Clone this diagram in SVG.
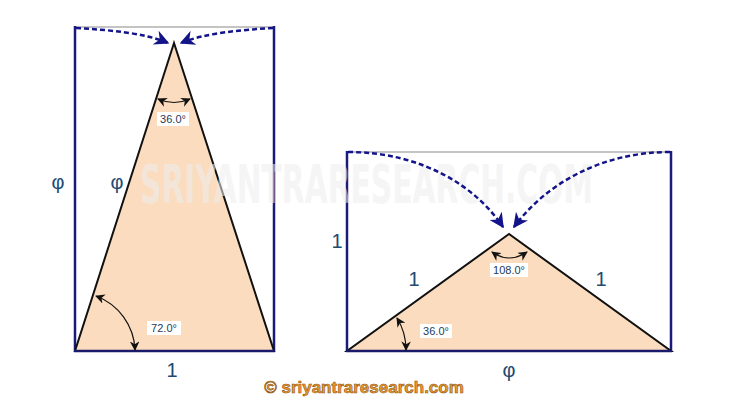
<svg xmlns="http://www.w3.org/2000/svg" width="730" height="404" viewBox="0 0 730 404">
<defs>
<marker id="navyArrow" viewBox="0 0 10 10" refX="9" refY="5" markerWidth="6" markerHeight="6" orient="auto" markerUnits="strokeWidth">
<path d="M0,0 L10,5 L0,10 L3,5 z" fill="#14148a"/>
</marker>
<marker id="blackArrow" viewBox="0 0 10 10" refX="9" refY="5" markerWidth="8" markerHeight="8" orient="auto" markerUnits="strokeWidth">
<path d="M0,0 L10,5 L0,10 L3,5 z" fill="#111"/>
</marker>
<marker id="blackArrowStart" viewBox="0 0 10 10" refX="1" refY="5" markerWidth="8" markerHeight="8" orient="auto" markerUnits="strokeWidth">
<path d="M10,0 L0,5 L10,10 L7,5 z" fill="#111"/>
</marker>
</defs>
<style>
.side{stroke:#1a1a7a;stroke-width:2.5;fill:none}
.top{stroke:#c4c4c4;stroke-width:2;fill:none}
.tri{fill:#fbdcbf;stroke:#111;stroke-width:2;stroke-linejoin:miter}
.base{stroke:#1a1a6a;stroke-width:2.5}
.dash{stroke:#14148a;stroke-width:2.5;stroke-dasharray:5,3;fill:none;marker-end:url(#navyArrow)}
.arc{stroke:#111;stroke-width:1.2;fill:none;marker-start:url(#blackArrowStart);marker-end:url(#blackArrow)}
.lbl{font-family:"Liberation Sans",Arial,sans-serif;font-size:20px;fill:#1d4a70;text-anchor:middle}
.ang{font-family:"Liberation Sans",Arial,sans-serif;font-size:11px;fill:#1d3a5a;text-anchor:middle}
.angbg{fill:#fff}
.wm{font-family:"Liberation Sans Narrow","DejaVu Sans Condensed",sans-serif;font-weight:bold;font-size:54px;fill:#eeeeee;opacity:0.55}
.foot{font-family:"Liberation Sans",Arial,sans-serif;font-weight:bold;font-size:17px;fill:#ee9a2a;stroke:#8a5418;stroke-width:0.6;text-anchor:middle}
</style>
<rect width="730" height="404" fill="#fff"/>

<g id="left-figure">
<line class="top" x1="75" y1="27" x2="274" y2="27"/>
<line class="side" x1="75" y1="26" x2="75" y2="352"/>
<line class="side" x1="274" y1="26" x2="274" y2="352"/>
<polygon class="tri" points="174,43 75,351 274,351"/>
<line class="base" x1="74" y1="351" x2="275" y2="351"/>
</g>

<g id="right-figure">
<line class="top" x1="347" y1="152" x2="671" y2="152"/>
<line class="side" x1="347" y1="151" x2="347" y2="352"/>
<line class="side" x1="671" y1="151" x2="671" y2="352"/>
<polygon class="tri" points="509,234 347,351 671,351"/>
<line class="base" x1="346" y1="351" x2="672" y2="351"/>
</g>

<g id="watermark">
<text class="wm" x="140" y="203" textLength="453" lengthAdjust="spacingAndGlyphs">SRIYANTRARESEARCH.COM</text>
</g>

<g id="connectors">
<path class="dash" d="M76,28 C110,30 145,33 168,43"/>
<path class="dash" d="M273,28 C240,30 205,33 181,43"/>
<path class="dash" d="M348,152 C420,152 475,185 503,227"/>
<path class="dash" d="M670,152 C600,152 545,185 514,227"/>
<path class="arc" d="M158,99 Q174,106 190,99"/>
<path class="arc" d="M96,296 A60,60 0 0 1 135,350"/>
<path class="arc" d="M492,252 Q509,264 527,252"/>
<path class="arc" d="M397,318 A60,60 0 0 1 406,350"/>
</g>

<g id="labels">
<rect class="angbg" x="157" y="112" width="32" height="14"/>
<text class="ang" x="173" y="123">36.0°</text>
<rect class="angbg" x="147" y="321" width="34" height="14"/>
<text class="ang" x="164" y="332">72.0°</text>
<rect class="angbg" x="490" y="263" width="38" height="14"/>
<text class="ang" x="509" y="274">108.0°</text>
<rect class="angbg" x="420" y="324" width="32" height="14"/>
<text class="ang" x="436" y="335">36.0°</text>
<text class="lbl" x="58" y="189">φ</text>
<text class="lbl" x="117" y="189">φ</text>
<text class="lbl" x="172" y="377">1</text>
<text class="lbl" x="337" y="248">1</text>
<text class="lbl" x="414" y="286">1</text>
<text class="lbl" x="601" y="286">1</text>
<text class="lbl" x="509" y="377">φ</text>
</g>

<g id="footer">
<text class="foot" x="364" y="393">© sriyantraresearch.com</text>
</g>
</svg>
